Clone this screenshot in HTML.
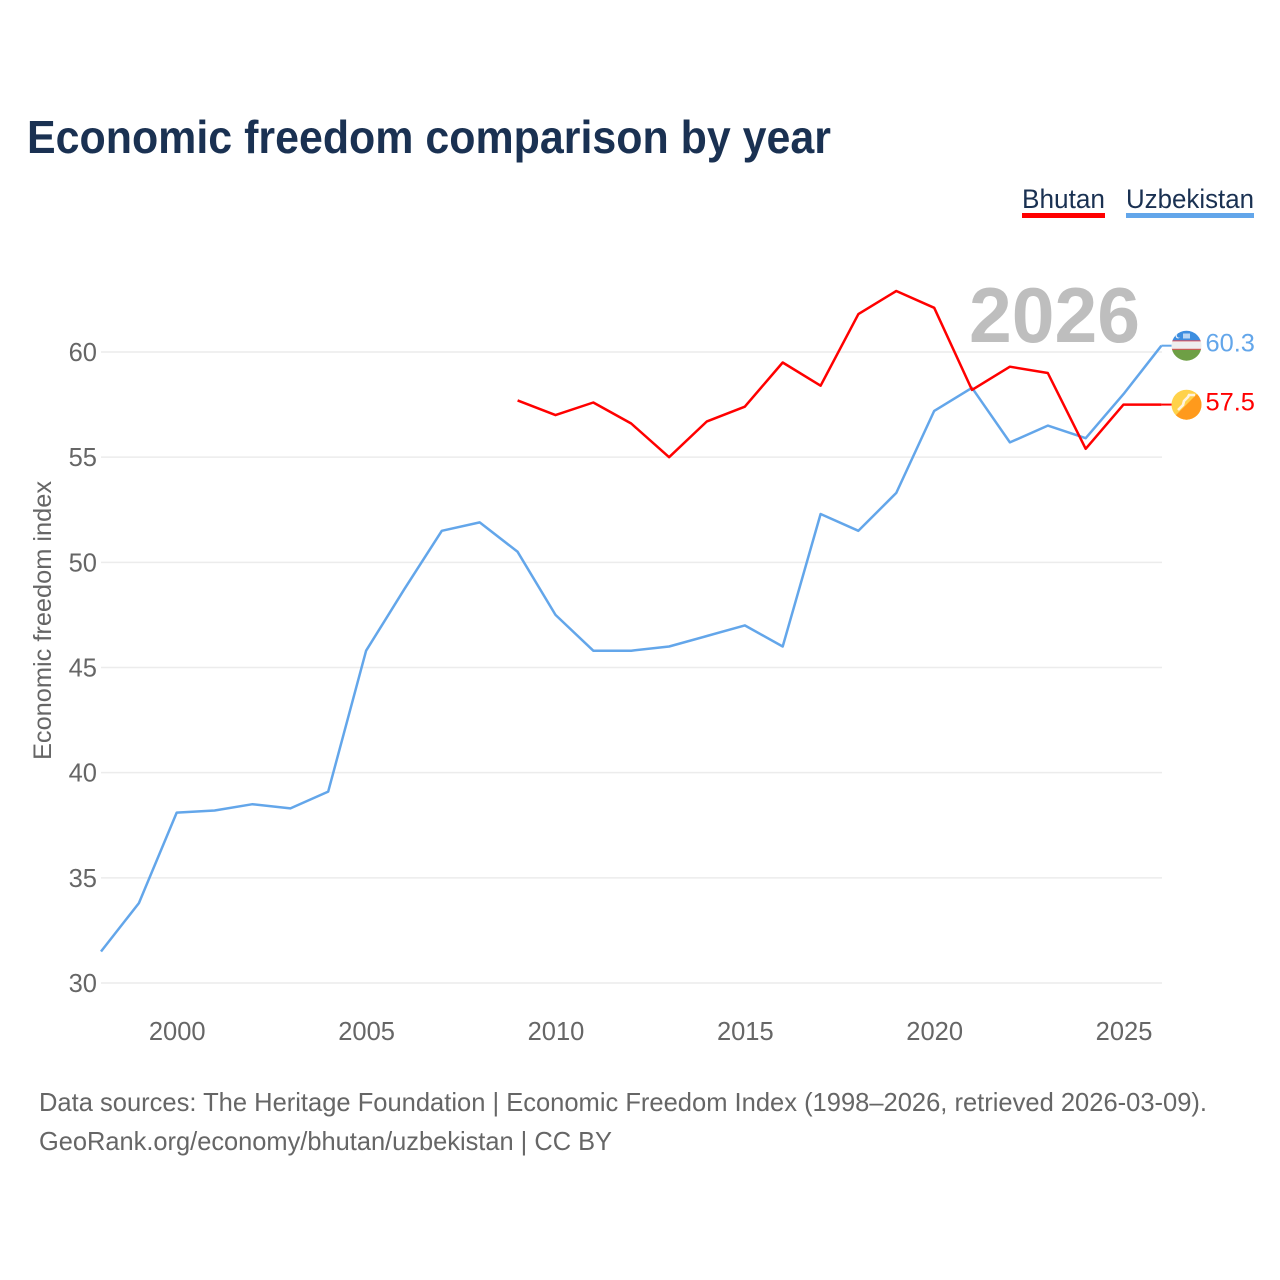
<!DOCTYPE html>
<html>
<head>
<meta charset="utf-8">
<style>
html,body{margin:0;padding:0;background:#fff;}
svg{display:block;font-family:"Liberation Sans",sans-serif;}
</style>
</head>
<body>
<svg id="chart" width="1280" height="1280" viewBox="0 0 1280 1280" xmlns="http://www.w3.org/2000/svg">
  <defs>
    <clipPath id="clip-uz"><circle cx="1186.5" cy="345.7" r="15"/></clipPath>
    <clipPath id="clip-bt"><circle cx="1186.5" cy="404.7" r="15"/></clipPath>
  </defs>
  <rect x="0" y="0" width="1280" height="1280" fill="#fff"/>
  <text x="27" y="153" font-size="46" font-weight="700" fill="#1a3152" textLength="804" lengthAdjust="spacingAndGlyphs">Economic freedom comparison by year</text>

  <g>
    <text x="1022" y="208" font-size="27" fill="#1a3152" textLength="83" lengthAdjust="spacingAndGlyphs">Bhutan</text>
    <rect x="1022" y="213" width="83" height="5" fill="#ff0000"/>
  </g>
  <g>
    <text x="1126" y="208" font-size="27" fill="#1a3152" textLength="128" lengthAdjust="spacingAndGlyphs">Uzbekistan</text>
    <rect x="1126" y="213" width="128" height="5" fill="#63a6ea"/>
  </g>

  <text transform="translate(51,760) rotate(-90)" x="0" y="0" font-size="25" fill="#666" textLength="279" lengthAdjust="spacingAndGlyphs">Economic freedom index</text>

  <g id="grid"></g>
  <g id="yticks"></g>
  <g id="xticks"></g>

  <text x="969" y="342" font-size="78" font-weight="700" fill="#bebebe" textLength="171" lengthAdjust="spacingAndGlyphs">2026</text>

  <g id="series"></g>

  <g clip-path="url(#clip-uz)">
    <rect x="1171" y="330" width="31" height="10.4" fill="#3d8ee0"/>
    <rect x="1171" y="340.4" width="31" height="1" fill="#d8323c"/>
    <rect x="1171" y="341.4" width="31" height="7.4" fill="#eeeeee"/>
    <rect x="1171" y="348.8" width="31" height="1" fill="#d8323c"/>
    <rect x="1171" y="349.8" width="31" height="11.5" fill="#6e9f45"/>
    <circle cx="1178" cy="336" r="2.4" fill="#e8f1fb"/>
    <circle cx="1179" cy="335.5" r="2.2" fill="#3d8ee0"/>
    <rect x="1183" y="333.5" width="7" height="5" fill="#b9d6f3"/>
  </g>
  <g clip-path="url(#clip-bt)">
    <rect x="1171" y="389" width="31" height="31" fill="#ffd24a"/>
    <polygon points="1202,389 1202,420 1171,420" fill="#ff9a1c"/>
    <polyline points="1178,410 1183,405 1184,401 1188,397 1189,395 1195,395" fill="none" stroke="#fff3e0" stroke-width="2.6"/>
  </g>

  <g id="endlabels"></g>

  <text x="39" y="1111" font-size="26" fill="#666" textLength="1168" lengthAdjust="spacingAndGlyphs">Data sources: The Heritage Foundation | Economic Freedom Index (1998–2026, retrieved 2026-03-09).</text>
  <text x="39" y="1150" font-size="26" fill="#666" textLength="573" lengthAdjust="spacingAndGlyphs">GeoRank.org/economy/bhutan/uzbekistan | CC BY</text>
</svg>
<script>
const uzbekistanYears = [1998,1999,2000,2001,2002,2003,2004,2005,2006,2007,2008,2009,2010,2011,2012,2013,2014,2015,2016,2017,2018,2019,2020,2021,2022,2023,2024,2025,2026];
const uzbekistanValues = [31.5,33.8,38.1,38.2,38.5,38.3,39.1,45.8,48.7,51.5,51.9,50.5,47.5,45.8,45.8,46.0,46.5,47.0,46.0,52.3,51.5,53.3,57.2,58.3,55.7,56.5,55.9,58.0,60.3];
const bhutanYears = [2009,2010,2011,2012,2013,2014,2015,2016,2017,2018,2019,2020,2021,2022,2023,2024,2025,2026];
const bhutanValues = [57.7,57.0,57.6,56.6,55.0,56.7,57.4,59.5,58.4,61.8,62.9,62.1,58.2,59.3,59.0,55.4,57.5,57.5];
const yTickValues = [30,35,40,45,50,55,60];
const xTickValues = [2000,2005,2010,2015,2020,2025];

const NS = 'http://www.w3.org/2000/svg';
function xScale(year) { return 101 + (year - 1998) * (1161.4 - 101) / 28; }
function yScale(v) { return 983 - (v - 30) * (983 - 352) / 30; }
function make(tag, attrs, parent, text) {
  const el = document.createElementNS(NS, tag);
  for (const k in attrs) el.setAttribute(k, attrs[k]);
  if (text !== undefined) el.textContent = text;
  parent.appendChild(el);
  return el;
}
const grid = document.getElementById('grid');
const yticks = document.getElementById('yticks');
const xticks = document.getElementById('xticks');
const series = document.getElementById('series');
const endlabels = document.getElementById('endlabels');

yTickValues.forEach(function (v) {
  const line = make('line', {x1: 101, x2: 1162, y1: yScale(v), y2: yScale(v), stroke: '#ececec', 'stroke-width': 1.5}, grid);
  
  
  const label = make('text', {x: 97, y: yScale(v) + 9, 'text-anchor': 'end', 'font-size': 25.5, fill: '#666'}, yticks, String(v));
  
  
});

xTickValues.forEach(function (t) {
  const label = make('text', {x: xScale(t) + 0.5, y: 1040, 'text-anchor': 'middle', 'font-size': 25.5, fill: '#666'}, xticks, String(t));
  
  
});

function drawSeries(name, years, values, color) {
  const pts = years.map(function (y, i) { return xScale(y).toFixed(1) + ',' + yScale(values[i]).toFixed(1); }).join(' ');
  const line = make('polyline', {points: pts, fill: 'none', stroke: color, 'stroke-width': 2.5, 'stroke-linejoin': 'round'}, series);
  
  
  const lastV = values[values.length - 1];
  const lastX = xScale(years[years.length - 1]);
  const connector = make('line', {x1: lastX, x2: lastX + 11, y1: yScale(lastV), y2: yScale(lastV), stroke: color, 'stroke-width': 2}, series);
  
  
  const label = make('text', {x: 1205.5, y: yScale(lastV) + 6, 'font-size': 25.4, fill: color}, endlabels, lastV.toFixed(1));
  
  
}
drawSeries('uzbekistan', uzbekistanYears, uzbekistanValues, '#63a6ea');
drawSeries('bhutan', bhutanYears, bhutanValues, '#ff0000');
</script>
</body>
</html>
